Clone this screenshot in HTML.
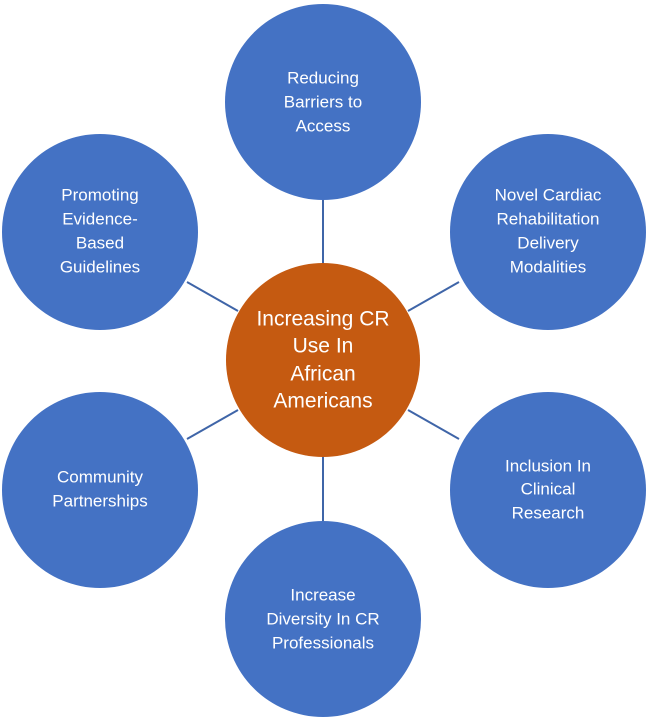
<!DOCTYPE html>
<html><head><meta charset="utf-8"><style>
html,body{margin:0;padding:0;background:#fff;}
svg{display:block;}
text{font-family:"Liberation Sans",sans-serif;fill:#fff;text-anchor:middle;dominant-baseline:central;}
.s{font-size:17px;}
.c{font-size:21px;}
</style></head><body>
<svg width="650" height="717" viewBox="0 0 650 717">
<g stroke="#3f65a8" stroke-width="2">
<line x1="323" y1="200" x2="323" y2="264"/>
<line x1="323" y1="456" x2="323" y2="522"/>
<line x1="187" y1="282" x2="238" y2="311"/>
<line x1="459" y1="282" x2="408" y2="311"/>
<line x1="187" y1="439" x2="238" y2="410"/>
<line x1="459" y1="439" x2="408" y2="410"/>
</g>
<g fill="#4472C4">
<circle cx="323" cy="102" r="98"/>
<circle cx="100" cy="232" r="98"/>
<circle cx="548" cy="232" r="98"/>
<circle cx="100" cy="490" r="98"/>
<circle cx="548" cy="490" r="98"/>
<circle cx="323" cy="619" r="98"/>
</g>
<circle cx="323" cy="360" r="97" fill="#C55A11"/>
<text class="s" x="323" y="78">Reducing</text>
<text class="s" x="323" y="102">Barriers to</text>
<text class="s" x="323" y="126">Access</text>
<text class="s" x="100" y="195">Promoting</text>
<text class="s" x="100" y="219">Evidence-</text>
<text class="s" x="100" y="243">Based</text>
<text class="s" x="100" y="267">Guidelines</text>
<text class="s" x="548" y="195">Novel Cardiac</text>
<text class="s" x="548" y="219">Rehabilitation</text>
<text class="s" x="548" y="243">Delivery</text>
<text class="s" x="548" y="267">Modalities</text>
<text class="s" x="100" y="477">Community</text>
<text class="s" x="100" y="501">Partnerships</text>
<text class="s" x="548" y="466">Inclusion In</text>
<text class="s" x="548" y="489">Clinical</text>
<text class="s" x="548" y="513">Research</text>
<text class="s" x="323" y="595">Increase</text>
<text class="s" x="323" y="619">Diversity In CR</text>
<text class="s" x="323" y="643">Professionals</text>
<text class="c" x="323" y="319">Increasing CR</text>
<text class="c" x="323" y="346">Use In</text>
<text class="c" x="323" y="374">African</text>
<text class="c" x="323" y="401">Americans</text>
</svg>
</body></html>
